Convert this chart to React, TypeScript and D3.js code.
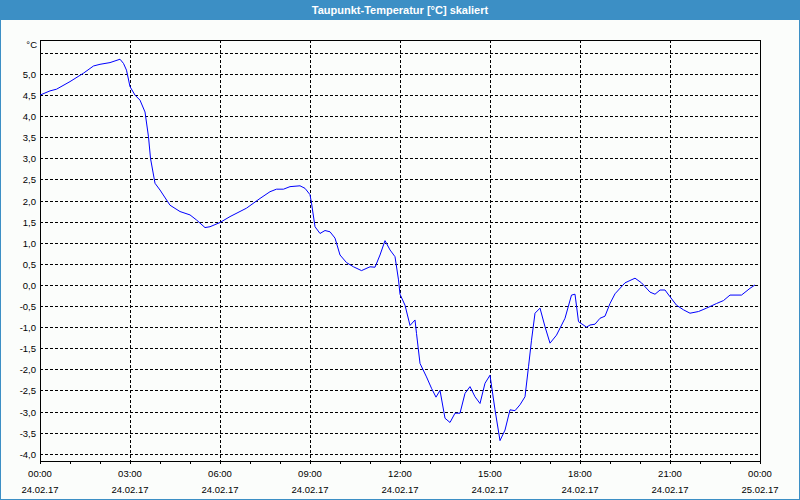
import React from "react";
import * as d3 from "d3";

// time in minutes since 24.02.17 00:00
const minutes = [
  0, 20, 33, 60, 87, 107, 120, 140, 160, 167, 173, 180, 190, 200, 210, 217, 221, 230, 240, 260,
  280, 300, 313, 330, 340, 360, 380, 413, 440, 460, 473, 487, 500, 520, 530, 540, 543, 550, 560, 570,
  580, 590, 600, 613, 627, 643, 660, 670, 680, 690, 700, 710, 717, 720, 730, 740, 750, 753, 760, 773,
  783, 792, 800, 810, 820, 830, 840, 850, 860, 870, 880, 890, 900, 910, 920, 930, 940, 950, 960, 970,
  977, 983, 990, 1000, 1010, 1020, 1033, 1050, 1063, 1070, 1077, 1093, 1100, 1110, 1120, 1130, 1140, 1150, 1170, 1190,
  1203, 1220, 1230, 1240, 1250, 1260, 1273, 1287, 1300, 1317, 1333, 1353, 1367, 1380, 1403, 1420, 1430,
];
const dewPoint = [
  4.5, 4.6, 4.64, 4.82, 5.02, 5.19, 5.23, 5.27, 5.35, 5.25, 5.09, 4.7, 4.5, 4.38, 4.1, 3.51, 3.0, 2.41, 2.25, 1.89,
  1.74, 1.66, 1.54, 1.36, 1.38, 1.48, 1.62, 1.82, 2.05, 2.21, 2.27, 2.27, 2.33, 2.35, 2.29, 2.14, 1.94, 1.38, 1.22, 1.29,
  1.26, 1.11, 0.71, 0.53, 0.43, 0.34, 0.43, 0.42, 0.71, 1.05, 0.83, 0.67, 0.12, -0.22, -0.48, -0.96, -0.83, -1.15, -1.86, -2.18,
  -2.45, -2.66, -2.5, -3.16, -3.26, -3.04, -3.04, -2.57, -2.41, -2.65, -2.81, -2.33, -2.14, -2.96, -3.69, -3.44, -2.96, -2.98, -2.84, -2.65,
  -1.94, -1.31, -0.67, -0.55, -0.99, -1.38, -1.19, -0.79, -0.24, -0.22, -0.87, -1.0, -0.95, -0.93, -0.79, -0.74, -0.44, -0.21, 0.05, 0.16,
  0.05, -0.17, -0.22, -0.12, -0.12, -0.28, -0.48, -0.59, -0.67, -0.63, -0.55, -0.44, -0.37, -0.24, -0.24, -0.08, 0.0,
];
const yTicks = [-4.0, -3.5, -3.0, -2.5, -2.0, -1.5, -1.0, -0.5, 0.0, 0.5, 1.0, 1.5, 2.0, 2.5, 3.0, 3.5, 4.0, 4.5, 5.0];
const yGridExtra = [5.5];
const xTickHours = [0, 3, 6, 9, 12, 15, 18, 21, 24];
const xTimeLabels = ["00:00", "03:00", "06:00", "09:00", "12:00", "15:00", "18:00", "21:00", "00:00"];
const xDateLabels = ["24.02.17", "24.02.17", "24.02.17", "24.02.17", "24.02.17", "24.02.17", "24.02.17", "24.02.17", "25.02.17"];
const title = "Taupunkt-Temperatur [°C] skaliert";
const unit = "°C";

const W = 800;
const H = 500;
const left = 40;
const right = 760;
const top = 40;
const bottom = 461;
const FONT = "Liberation Sans, Arial, sans-serif";

export default function App() {
  const x = d3.scaleLinear().domain([0, 24 * 60]).range([left, right]);
  const y = d3.scaleLinear().domain([-4.0, 5.0]).range([453.7, 74]);
  const data = minutes.map((m, i) => [m, dewPoint[i]] as [number, number]);
  const line = d3
    .line<[number, number]>()
    .x((d) => x(d[0]))
    .y((d) => y(d[1]));
  const fmt = (v: number) => d3.format(".1f")(v).replace("−", "-").replace(".", ",");
  const px = (v: number) => Math.round(v) + 0.5;
  const hourTicks = d3.range(0, 25);

  return (
    <div style={{ position: "absolute", left: 0, top: 0 }}>
      <svg width={W} height={H} style={{ display: "block" }}>
        <rect x={0} y={0} width={W} height={H} fill="#fbfdfb" />
        <rect x={0.5} y={0.5} width={W - 1} height={H - 1} fill="none" stroke="#3c8fc5" />
        <rect x={0} y={0} width={W} height={20} fill="#3c8fc5" />
        <text x={W / 2} y={14} textAnchor="middle" fill="#ffffff" fontFamily={FONT} fontSize={11} fontWeight="bold">
          {title}
        </text>

        {/* horizontal grid */}
        {[...yTicks, ...yGridExtra].map((v) => (
          <line
            key={"h" + v}
            x1={left}
            x2={right}
            y1={px(y(v))}
            y2={px(y(v))}
            stroke="#000"
            strokeDasharray="3,2"
            shapeRendering="crispEdges"
          />
        ))}
        {/* vertical grid */}
        {xTickHours.slice(1, -1).map((h) => (
          <line
            key={"v" + h}
            x1={px(x(h * 60))}
            x2={px(x(h * 60))}
            y1={top}
            y2={bottom}
            stroke="#000"
            strokeDasharray="3,2"
            shapeRendering="crispEdges"
          />
        ))}

        {/* plot frame */}
        <rect
          x={left + 0.5}
          y={top + 0.5}
          width={right - left}
          height={bottom - top}
          fill="none"
          stroke="#000"
          shapeRendering="crispEdges"
        />

        {/* x ticks */}
        {hourTicks.map((h) => (
          <line
            key={"t" + h}
            x1={px(x(h * 60))}
            x2={px(x(h * 60))}
            y1={bottom}
            y2={bottom + 3}
            stroke="#000"
            shapeRendering="crispEdges"
          />
        ))}

        {/* y labels */}
        {yTicks.map((v) => (
          <text
            key={"yl" + v}
            x={36}
            y={y(v) + 4}
            textAnchor="end"
            fontFamily={FONT}
            fontSize={9.5}
            fill="#000"
          >
            {fmt(v)}
          </text>
        ))}
        <text x={37} y={48} textAnchor="end" fontFamily={FONT} fontSize={9.5} fill="#000">
          {unit}
        </text>

        {/* x labels */}
        {xTickHours.map((h, i) => (
          <g key={"xl" + h}>
            <text x={x(h * 60)} y={477} textAnchor="middle" fontFamily={FONT} fontSize={9.5} fill="#000">
              {xTimeLabels[i]}
            </text>
            <text x={x(h * 60)} y={493} textAnchor="middle" fontFamily={FONT} fontSize={9.5} fill="#000">
              {xDateLabels[i]}
            </text>
          </g>
        ))}

        <path d={line(data) || ""} fill="none" stroke="#0000ff" strokeWidth={1} />
      </svg>
    </div>
  );
}
